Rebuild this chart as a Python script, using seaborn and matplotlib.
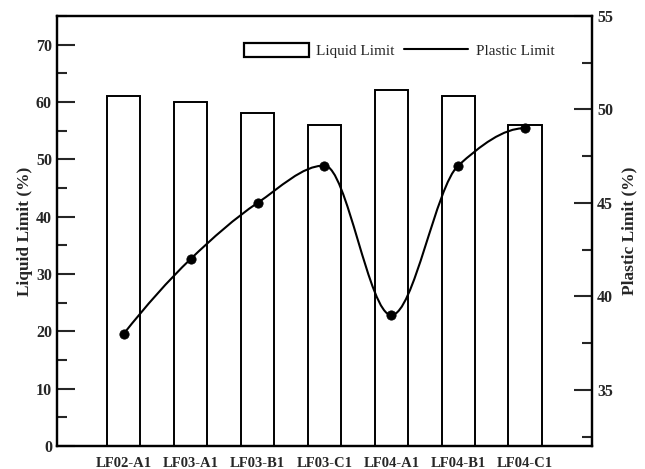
import matplotlib
matplotlib.use("Agg")
import matplotlib.pyplot as plt
import numpy as np
import pandas as pd
import seaborn as sns
from matplotlib.lines import Line2D
from matplotlib.patches import Patch, PathPatch
from matplotlib.path import Path
from matplotlib.ticker import MultipleLocator

# Sample names and measured limits (%)
SAMPLES = ['LF02-A1', 'LF03-A1', 'LF03-B1', 'LF03-C1', 'LF04-A1', 'LF04-B1', 'LF04-C1']
LIQUID_LIMIT = [61, 60, 58, 56, 62, 61, 56]
PLASTIC_LIMIT = [38, 42, 45, 47, 39, 47, 49]


def pchip_path(xs, ys):
    """ Monotone (PCHIP-like) cubic through the points, as a bezier Path. """
    xs = np.asarray(xs, dtype=float)
    ys = np.asarray(ys, dtype=float)
    n = len(xs)
    h = np.diff(xs)
    s = np.diff(ys) / h

    d = np.zeros(n)
    for i in range(1, n - 1):
        if s[i - 1] * s[i] > 0:
            w1 = 2 * h[i] + h[i - 1]
            w2 = h[i] + 2 * h[i - 1]
            d[i] = (w1 + w2) / (w1 / s[i - 1] + w2 / s[i])

    # end points, three point formula with shape checks
    def end_slope(h0, h1, s0, s1):
        dd = ((2 * h0 + h1) * s0 - h0 * s1) / (h0 + h1)
        if np.sign(dd) != np.sign(s0):
            return 0.0
        if np.sign(s0) != np.sign(s1) and abs(dd) > abs(3 * s0):
            return 3 * s0
        return dd

    d[0] = end_slope(h[0], h[1], s[0], s[1])
    d[-1] = end_slope(h[-1], h[-2], s[-1], s[-2])

    verts = [(xs[0], ys[0])]
    codes = [Path.MOVETO]
    for i in range(n - 1):
        hi = h[i]
        verts += [(xs[i] + hi / 3, ys[i] + d[i] * hi / 3),
                  (xs[i + 1] - hi / 3, ys[i + 1] - d[i + 1] * hi / 3),
                  (xs[i + 1], ys[i + 1])]
        codes += [Path.CURVE4] * 3
    return Path(verts, codes)


df = pd.DataFrame({'sample': SAMPLES, 'liquid': LIQUID_LIMIT,
                   'plastic': PLASTIC_LIMIT, 'pos': np.arange(len(SAMPLES))})

sns.set_style("ticks")
plt.rcParams['font.family'] = ['Liberation Serif', 'DejaVu Serif']

fig = plt.figure(figsize=(6.45, 4.69), dpi=100)
ax = fig.add_axes([0.088, 0.049, 0.830, 0.917])

sns.barplot(data=df, x='sample', y='liquid', color='white', edgecolor='black',
            linewidth=1.4, width=0.5, ax=ax)
ax.set_xlim(-1, 7)
ax.set_ylim(0, 75)
ax.yaxis.set_major_locator(MultipleLocator(10))
ax.yaxis.set_minor_locator(MultipleLocator(5))
ax.set_xlabel('')
ax.set_ylabel('Liquid Limit (%)', fontsize=12.5, fontweight='bold', labelpad=2)
ax.tick_params(axis='y', direction='in', length=13, width=1.5, labelsize=11.5)
ax.tick_params(axis='y', which='minor', direction='in', length=7, width=1.5)
ax.tick_params(axis='x', length=0, labelsize=10.5, pad=8)
for lab in ax.get_xticklabels() + ax.get_yticklabels():
    lab.set_fontweight('bold')

ax2 = ax.twinx()
ax2.add_patch(PathPatch(pchip_path(df['pos'], df['plastic']),
                        facecolor='none', edgecolor='black', linewidth=1.5))
sns.scatterplot(data=df, x='pos', y='plastic', color='black', s=45,
                edgecolor='black', zorder=5, ax=ax2)
ax2.set_xlim(-1, 7)
ax2.set_ylim(32, 55)
ax2.yaxis.set_major_locator(MultipleLocator(5))
ax2.yaxis.set_minor_locator(MultipleLocator(2.5))
ax2.set_ylabel('Plastic Limit (%)', fontsize=12.5, fontweight='bold', labelpad=6)
ax2.tick_params(axis='y', direction='in', length=13, width=1.5, labelsize=11.5)
ax2.tick_params(axis='y', which='minor', direction='in', length=7, width=1.5)
for lab in ax2.get_yticklabels():
    lab.set_fontweight('bold')

for a in (ax, ax2):
    for sp in a.spines.values():
        sp.set_visible(True)
        sp.set_linewidth(1.6)
        sp.set_color('black')

handles = [Patch(facecolor='white', edgecolor='black', linewidth=1.6, label='Liquid Limit'),
           Line2D([], [], color='black', linewidth=1.5, label='Plastic Limit')]
ax2.legend(handles=handles, ncol=2, frameon=False, loc='upper right',
           bbox_to_anchor=(0.955, 0.97), fontsize=11, handlelength=4.2,
           handleheight=1.1, handletextpad=0.5, columnspacing=0.6)

fig.savefig('out.png', dpi=100)
